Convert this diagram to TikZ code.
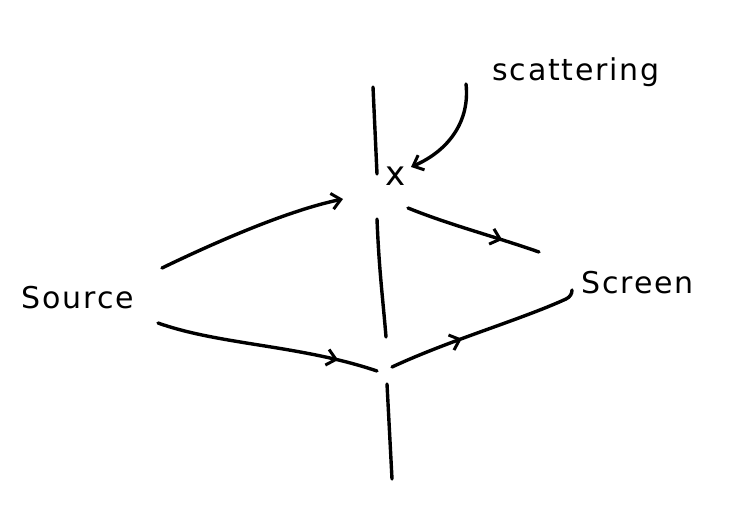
\documentclass[tikz,border=0pt]{standalone}
\usepackage{fontspec}
\setmainfont{DejaVu Sans}
\usetikzlibrary{arrows.meta,decorations.markings}
\tikzset{
  ink/.style={line width=3.4pt, line cap=round, line join=round},
  label/.style={font=\fontsize{30}{32}\selectfont\addfontfeature{LetterSpace=6}},
  midarrow/.style={decoration={markings, mark=at position #1 with {\arrow{Straight Barb[length=9pt,width=16pt,line width=3pt]}}}, postaction={decorate}},
  endarrow/.style={-{Straight Barb[length=9pt,width=16pt,line width=3pt]}}
}
\begin{document}
\begin{tikzpicture}[x=1pt,y=-1pt]
\useasboundingbox (0,0) rectangle (735,517);
% wall
\coordinate (w1a) at (373,87);
\coordinate (w1b) at (377,174);
\coordinate (w2a) at (377,219);
\coordinate (w2b) at (386,337);
\coordinate (w3a) at (387,384);
\coordinate (w3b) at (392,479);
\draw[ink] (w1a) -- (w1b);
\draw[ink] (w2a) .. controls (379,270) and (383,300) .. (w2b);
\draw[ink] (w3a) -- (w3b);
% labels
\node[label] (src) at (78,298) {Source};
\node[label, anchor=west] (scr) at (578,283) {Screen};
\node[label] (sct) at (576,72) {scattering};
\node[font=\fontsize{34}{36}\selectfont] (xm) at (396,176) {x};
% paths
\coordinate (a1) at (162,268);
\coordinate (a2) at (343,199);
\draw[ink, endarrow] (a1) .. controls (220,240) and (290,210) .. (a2);
\coordinate (b1) at (158,323);
\coordinate (b2) at (377,371);
\draw[ink, midarrow=0.82] (b1) .. controls (220,345) and (300,345) .. (b2);
\coordinate (c1) at (408,208);
\coordinate (c2) at (539,252);
\draw[ink, midarrow=0.72] (c1) .. controls (450,225) and (490,235) .. (c2);
\coordinate (d1) at (392,367);
\coordinate (d2) at (572,290);
\draw[ink, midarrow=0.38] (d1) .. controls (450,340) and (520,320) .. (566,299) .. controls (570,297) and (572,294) .. (d2);
\coordinate (e1) at (466,84);
\coordinate (e2) at (411,167);
\draw[ink, endarrow] (e1) .. controls (470,120) and (450,150) .. (e2);
\end{tikzpicture}
\end{document}
